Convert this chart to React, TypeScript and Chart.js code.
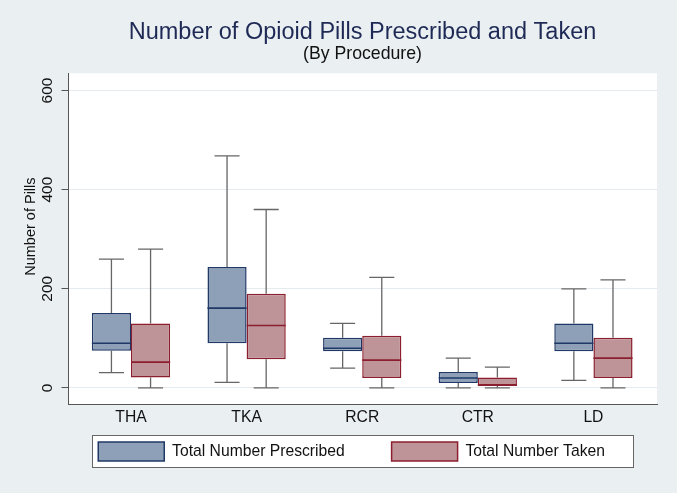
import React, { useEffect, useRef } from 'react';
import { Chart, registerables } from 'chart.js';

Chart.register(...registerables);

// ---- data ----
const categories = ['THA', 'TKA', 'RCR', 'CTR', 'LD'];
const yTickValues = [0, 200, 400, 600];
const yAxisTitle = 'Number of Pills';

const prescribedMin = [31, 11, 40, 0, 15];
const prescribedQ1 = [75, 90, 74, 10, 74];
const prescribedMedian = [90, 161, 80, 20, 90];
const prescribedQ3 = [151, 244, 101, 32, 130];
const prescribedMax = [260, 468, 130, 60, 200];

const takenMin = [0, 0, 0, 0, 0];
const takenQ1 = [21, 58, 20, 4, 20];
const takenMedian = [52, 126, 56, 6, 60];
const takenQ3 = [130, 190, 105, 21, 101];
const takenMax = [280, 360, 223, 42, 218];

// ---- styles ----
const FONT = 'Liberation Sans, Arial, Helvetica, sans-serif';
const BG = '#eaeff2';
const WHISKER = '#666666';
const AXIS = '#555555';
const GRID = '#e4eaed';

const series = [
  {
    label: 'Total Number Prescribed',
    min: prescribedMin, q1: prescribedQ1, median: prescribedMedian, q3: prescribedQ3, max: prescribedMax,
    fill: '#8ea0b8', border: '#1f3866', legendPad: 8,
  },
  {
    label: 'Total Number Taken',
    min: takenMin, q1: takenQ1, median: takenMedian, q3: takenQ3, max: takenMax,
    fill: '#be9498', border: '#8c1f2f', legendPad: 5,
  },
];

const LEGEND_BOX_W = 66;
const LEGEND_BOX_H = 19;

const boxPlotPlugin = {
  id: 'boxPlotParts',
  beforeDraw(chart: any) {
    const { ctx, chartArea: a, width, height } = chart;
    ctx.save();
    ctx.fillStyle = BG;
    ctx.fillRect(0, 0, width, height);
    ctx.fillStyle = '#ffffff';
    ctx.fillRect(a.left, a.top, a.right - a.left, a.bottom - a.top);
    const lg = chart.legend;
    if (lg && lg.legendHitBoxes && lg.legendHitBoxes.length) {
      const hb = lg.legendHitBoxes;
      const first = hb[0];
      const last = hb[hb.length - 1];
      const x0 = Math.round(first.left - 6) + 0.5;
      const x1 = Math.round(last.left + last.width + 6) + 0.5;
      const y0 = Math.round(first.top - 7) + 0.5;
      const y1 = Math.round(first.top + LEGEND_BOX_H + 6) + 0.5;
      ctx.fillStyle = '#ffffff';
      ctx.fillRect(x0, y0, x1 - x0, y1 - y0);
      ctx.strokeStyle = '#666666';
      ctx.lineWidth = 1;
      ctx.strokeRect(x0, y0, x1 - x0, y1 - y0);
    }
    ctx.restore();
  },
  beforeDatasetsDraw(chart: any) {
    const { ctx } = chart;
    const ys = chart.scales.y;
    ctx.save();
    ctx.strokeStyle = WHISKER;
    ctx.lineWidth = 1.3;
    series.forEach((s, di) => {
      const meta = chart.getDatasetMeta(di);
      meta.data.forEach((el: any, i: number) => {
        const { x, width } = el.getProps(['x', 'width'], true);
        const cap = width * 0.64;
        const yMin = ys.getPixelForValue(s.min[i]);
        const yMax = ys.getPixelForValue(s.max[i]);
        const yQ1 = ys.getPixelForValue(s.q1[i]);
        const yQ3 = ys.getPixelForValue(s.q3[i]);
        ctx.beginPath();
        ctx.moveTo(x, yQ3);
        ctx.lineTo(x, yMax);
        ctx.moveTo(x - cap / 2, yMax);
        ctx.lineTo(x + cap / 2, yMax);
        ctx.moveTo(x, yQ1);
        ctx.lineTo(x, yMin);
        ctx.moveTo(x - cap / 2, yMin);
        ctx.lineTo(x + cap / 2, yMin);
        ctx.stroke();
      });
    });
    ctx.restore();
  },
  afterDatasetsDraw(chart: any) {
    const { ctx } = chart;
    const ys = chart.scales.y;
    ctx.save();
    ctx.lineWidth = 1.6;
    series.forEach((s, di) => {
      const meta = chart.getDatasetMeta(di);
      ctx.strokeStyle = s.border;
      meta.data.forEach((el: any, i: number) => {
        const { x, width } = el.getProps(['x', 'width'], true);
        const yMed = ys.getPixelForValue(s.median[i]);
        ctx.beginPath();
        ctx.moveTo(x - width / 2, yMed);
        ctx.lineTo(x + width / 2, yMed);
        ctx.stroke();
      });
    });
    ctx.restore();
  },
  afterDraw(chart: any) {
    // y-axis title, placed like the original (slightly above the plot's middle)
    const { ctx, chartArea: a } = chart;
    const ys = chart.scales.y;
    ctx.save();
    ctx.translate(ys.left + 31, (a.top + a.bottom) / 2 - 12);
    ctx.rotate(-Math.PI / 2);
    ctx.fillStyle = '#111111';
    ctx.font = `14.5px ${FONT}`;
    ctx.textAlign = 'center';
    ctx.textBaseline = 'middle';
    ctx.fillText(yAxisTitle, 0, 0);
    ctx.restore();
  },
};

export default function App() {
  const canvasRef = useRef<HTMLCanvasElement | null>(null);

  useEffect(() => {
    document.body.style.margin = '0';
    const canvas = canvasRef.current;
    if (!canvas) return;

    const chart = new Chart(canvas, {
      type: 'bar',
      data: {
        datasets: series.map((s) => ({
          label: s.label,
          data: categories.map((_, i) => ({ x: i + 1, y: [s.q1[i], s.q3[i]] })),
          backgroundColor: s.fill,
          borderColor: s.border,
          borderWidth: 1.5,
          borderSkipped: false,
          categoryPercentage: 0.677,
          barPercentage: 1,
        })) as any,
      },
      options: {
        responsive: false,
        animation: false,
        devicePixelRatio: 1,
        layout: { padding: { top: 0, left: 0, right: 20, bottom: 22 } },
        plugins: {
          tooltip: { enabled: false },
          title: {
            display: true,
            text: 'Number of Opioid Pills Prescribed and Taken',
            fullSize: false,
            color: '#1e2a55',
            font: { family: FONT, size: 23.5, weight: 'normal', lineHeight: 1 },
            padding: { top: 21, bottom: 0 },
          },
          subtitle: {
            display: true,
            text: '(By Procedure)',
            fullSize: false,
            color: '#111111',
            font: { family: FONT, size: 17.7, weight: 'normal', lineHeight: 1 },
            padding: { top: 0.5, bottom: 10.5 },
          },
          legend: {
            display: true,
            position: 'bottom',
            fullSize: false,
            align: 'center',
            labels: {
              boxWidth: LEGEND_BOX_W,
              boxHeight: LEGEND_BOX_H,
              padding: 12,
              color: '#111111',
              font: { family: FONT, size: 15.7 },
              generateLabels(ch: any) {
                const items = (Chart as any).defaults.plugins.legend.labels.generateLabels(ch);
                return items.map((it: any, i: number) => ({
                  ...it,
                  text: it.text + ' '.repeat(series[i].legendPad),
                  lineWidth: 1.5,
                }));
              },
            },
          },
        },
        scales: {
          x: {
            type: 'linear',
            offset: false,
            min: 0.455,
            max: 5.55,
            afterBuildTicks: (axis: any) => {
              axis.ticks = categories.map((_, i) => ({ value: i + 1 }));
            },
            afterFit: (axis: any) => {
              axis.height = 26;
            },
            grid: { display: false, drawTicks: false, offset: false },
            border: { display: true, color: AXIS, width: 1 },
            ticks: {
              color: '#111111',
              font: { family: FONT, size: 15.7 },
              padding: 4.5,
              maxRotation: 0,
              autoSkip: false,
              callback: (v: any) => categories[Math.round(Number(v)) - 1] ?? '',
            },
          },
          y: {
            type: 'linear',
            min: -32.5,
            max: 635,
            afterBuildTicks: (axis: any) => {
              axis.ticks = yTickValues.map((v) => ({ value: v }));
            },
            afterFit: (axis: any) => {
              axis.width = 68;
            },
            grid: { color: GRID, lineWidth: 1, tickLength: 6.5, tickColor: AXIS, drawTicks: true },
            border: { display: true, color: AXIS, width: 1 },
            ticks: {
              color: '#111111',
              font: { family: FONT, size: 15.5 },
              minRotation: 90,
              maxRotation: 90,
              crossAlign: 'center',
              padding: 1,
            },
            title: { display: false },
          },
        },
      } as any,
      plugins: [boxPlotPlugin],
    });

    return () => {
      chart.destroy();
    };
  }, []);

  return (
    <div style={{ width: 677, height: 493 }}>
      <canvas ref={canvasRef} width={677} height={493} style={{ display: 'block' }} />
    </div>
  );
}
